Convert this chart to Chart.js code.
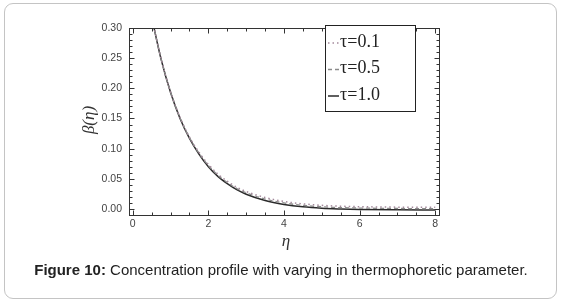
<!DOCTYPE html>
<html><head><meta charset="utf-8">
<script src="https://cdn.jsdelivr.net/npm/chart.js@4"></script>
<style>
html,body{margin:0;padding:0;background:#fff;}
#wrap{position:relative;width:562px;height:305px;}
#frame{position:absolute;left:4px;top:3px;width:551px;height:294px;border:1px solid #c4c4c4;border-radius:9px;}
canvas{position:absolute;left:0;top:0;}
#cap{position:absolute;left:0;width:562px;top:261px;text-align:center;font:15px "Liberation Sans",Arial,sans-serif;color:#222;}
</style></head><body>
<div id="wrap"><div id="frame"></div><canvas id="c" width="562" height="305"></canvas>
<div id="cap"><b>Figure 10:</b> Concentration profile with varying in thermophoretic parameter.</div></div>
<script>
const eta = [0.5,0.75,1.0,1.25,1.5,1.75,2.0,2.25,2.5,2.75,3.0,3.5,4.0,4.5,5.0,5.5,6.0,7.0,8.0];
const tau01 = [0.318,0.249,0.194,0.152,0.119,0.094,0.074,0.058,0.046,0.036,0.029,0.019,0.0125,0.0085,0.006,0.0045,0.0038,0.003,0.0027];
const tau05 = [0.318,0.2485,0.1935,0.151,0.118,0.0925,0.072,0.056,0.044,0.034,0.027,0.0165,0.010,0.006,0.0036,0.0022,0.0015,0.0008,0.0005];
const tau10 = [0.318,0.248,0.193,0.150,0.117,0.091,0.070,0.054,0.042,0.032,0.0245,0.014,0.0075,0.0035,0.0012,0.0,-0.0008,-0.0015,-0.0018];
const labels = ["τ=0.1","τ=0.5","τ=1.0"];
const xTicks = [0,2,4,6,8];
const yTicks = [0,0.05,0.10,0.15,0.20,0.25,0.30];
const xMinor = [0,0.5,1,1.5,2,2.5,3,3.5,4,4.5,5,5.5,6,6.5,7,7.5,8];
const yMinor = [0,0.01,0.02,0.03,0.04,0.05,0.06,0.07,0.08,0.09,0.10,0.11,0.12,0.13,0.14,0.15,0.16,0.17,0.18,0.19,0.20,0.21,0.22,0.23,0.24,0.25,0.26,0.27,0.28,0.29,0.30];

const pts = arr => eta.map((e,i)=>({x:e,y:arr[i]}));
const styles = [
  {color:'#a48a9c', dash:[1.5,3], w:1.5},
  {color:'#8a8a8a', dash:[4,3], w:1.3},
  {color:'#2a2a2a', dash:[], w:1.5}
];

const framePlugin = {
  id:'frame',
  afterDraw(chart){
    const ctx = chart.ctx, a = chart.chartArea, xs = chart.scales.x, ys = chart.scales.y;
    ctx.save();
    ctx.strokeStyle = '#333'; ctx.lineWidth = 1;
    const L = Math.round(a.left)+0.5, R = Math.round(a.right)+0.5, T = Math.round(a.top)+0.5, B = Math.round(a.bottom)+0.5;
    ctx.strokeRect(L, T, R-L, B-T);
    ctx.beginPath();
    xMinor.forEach(v=>{
      const p = Math.round(xs.getPixelForValue(v))+0.5;
      const len = xTicks.includes(v)?5:3;
      ctx.moveTo(p,B); ctx.lineTo(p,B-len);
      ctx.moveTo(p,T); ctx.lineTo(p,T+len);
    });
    yMinor.forEach(v=>{
      const p = Math.round(ys.getPixelForValue(v))+0.5;
      const major = yTicks.some(t=>Math.abs(t-v)<1e-9);
      const len = major?5:3;
      ctx.moveTo(L,p); ctx.lineTo(L+len,p);
      ctx.moveTo(R,p); ctx.lineTo(R-len,p);
    });
    ctx.stroke();
    // axis titles
    ctx.fillStyle = '#333';
    ctx.font = 'italic 17px "Liberation Serif", serif';
    ctx.textAlign = 'center'; ctx.textBaseline = 'middle';
    ctx.fillText('η', 286, 242);
    ctx.save();
    ctx.translate(90, 120); ctx.rotate(-Math.PI/2);
    ctx.font = 'italic 17px "Liberation Serif", serif';
    ctx.fillText('β(η)', 0, 0);
    ctx.restore();
    // legend
    const bx = 325.5, by = 25.5, bw = 90, bh = 86;
    ctx.fillStyle = '#fff'; ctx.fillRect(bx, by, bw, bh);
    ctx.strokeStyle = '#222'; ctx.lineWidth = 1; ctx.strokeRect(bx, by, bw, bh);
    ctx.font = '18px "Liberation Serif", serif';
    ctx.textAlign = 'left'; ctx.textBaseline = 'middle';
    labels.forEach((t,i)=>{
      const y = 42 + i*26.5;
      const s = styles[i];
      ctx.strokeStyle = s.color; ctx.lineWidth = s.w; ctx.setLineDash(s.dash);
      ctx.beginPath(); ctx.moveTo(328, y+1); ctx.lineTo(339, y+1); ctx.stroke();
      ctx.setLineDash([]);
      ctx.fillStyle = '#222';
      ctx.fillText(t, 340, y);
    });
    ctx.restore();
  }
};

new Chart(document.getElementById('c'), {
  type:'line',
  data:{datasets:[tau01,tau05,tau10].map((arr,i)=>({
    label:labels[i], data:pts(arr), borderColor:styles[i].color, borderDash:styles[i].dash,
    borderWidth:styles[i].w, pointRadius:0, tension:0.4, cubicInterpolationMode:'monotone', fill:false
  }))},
  options:{
    responsive:false, animation:false,
    layout:{padding:{left:0,right:123,top:28,bottom:70}},
    plugins:{legend:{display:false}, tooltip:{enabled:false}},
    scales:{
      x:{type:'linear', min:-0.1, max:8.1,
        afterBuildTicks:s=>{s.ticks = xTicks.map(v=>({value:v}));},
        afterFit:s=>{s.height = 20;},
        grid:{display:false, drawTicks:false}, border:{display:false},
        ticks:{padding:3, color:'#444', font:{family:'"Liberation Sans", Arial', size:10.5}, callback:v=>String(v), maxRotation:0}
      },
      y:{type:'linear', min:-0.01, max:0.30,
        afterBuildTicks:s=>{s.ticks = yTicks.map(v=>({value:v}));},
        afterFit:s=>{s.width = 129;},
        grid:{display:false, drawTicks:false}, border:{display:false},
        ticks:{padding:7, color:'#444', font:{family:'"Liberation Sans", Arial', size:10.5}, callback:v=>v.toFixed(2)}
      }
    }
  },
  plugins:[framePlugin]
});
</script></body></html>
